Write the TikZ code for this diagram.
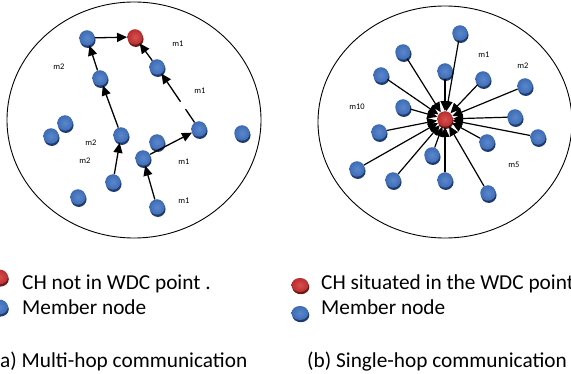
\documentclass[tikz,border=0pt]{standalone}
\usepackage{fontspec}
\setmainfont{Carlito}
\usetikzlibrary{arrows.meta,shadows,shapes.geometric}
\definecolor{nb}{RGB}{62,108,180}
\definecolor{nbl}{RGB}{90,135,205}
\definecolor{nbd}{RGB}{30,58,110}
\definecolor{nr}{RGB}{185,45,45}
\definecolor{nrl}{RGB}{215,80,80}
\definecolor{nrd}{RGB}{110,25,25}
\begin{document}
\begin{tikzpicture}[x=1pt,y=-1pt,
  mem/.style={circle,inner sep=0pt,minimum size=15.5pt,inner color=nbl,outer color=nb,
    drop shadow={shadow xshift=0.8pt,shadow yshift=-2.2pt,fill=nbd,opacity=1}},
  ch/.style={circle,inner sep=0pt,minimum size=15.5pt,inner color=nrl,outer color=nr,
    drop shadow={shadow xshift=0.8pt,shadow yshift=-2.2pt,fill=nrd,opacity=1}},
  lab/.style={font=\fontsize{8.5}{9}\selectfont,inner sep=0pt},
  leg/.style={font=\fontsize{21.3}{24}\selectfont,inner sep=0pt,anchor=base west},
  hop/.style={line width=1.3pt,-{Triangle[length=10pt,width=9pt]}},
  spoke/.style={line width=1.2pt,-{Triangle[length=10pt,width=9pt]}},
  area/.style={draw=black,line width=0.9pt}]
\useasboundingbox (0,0) rectangle (571,374);
\clip (0,0) rectangle (571,374);
\fill[white] (0,0) rectangle (571,374);
% areas
\node[area,ellipse,minimum width=254pt,minimum height=236pt,inner sep=0pt] (zoneA) at (134,120) {};
\node[area,ellipse,minimum width=254pt,minimum height=232pt,inner sep=0pt] (zoneB) at (445,122) {};
% ---------- multi-hop ----------
\node[ch]  (cha) at (135,37) {};
\node[mem] (a1) at (87,38) {};
\node[mem] (a2) at (100,78) {};
\node[mem] (a3) at (157,67) {};
\node[mem] (a4) at (65,123) {};
\node[mem] (a5) at (51,136) {};
\node[mem] (a6) at (121,135) {};
\node[mem] (a7) at (157,142) {};
\node[mem] (a8) at (199,129) {};
\node[mem] (a9) at (242,133) {};
\node[mem] (a10) at (143,158) {};
\node[mem] (a11) at (113,182) {};
\node[mem] (a12) at (78,197) {};
\node[mem] (a13) at (157,207) {};
\draw[hop] (a1) -- (cha);
\draw[hop] (a2) -- (a1);
\draw[hop] (a6) -- (a2);
\draw[hop] (a11) -- (a6);
\draw[hop] (a3) -- (cha);
\draw[hop,dash pattern=on 16pt off 9pt on 200pt] (a8) -- (a3);
\draw[hop] (a10) -- (a8);
\draw[hop] (a13) -- (a10);
\node[lab] (la1) at (178,44) {m1};
\node[lab] (la2) at (59,67) {m2};
\node[lab] (la3) at (200,91) {m1};
\node[lab] (la4) at (91,143) {m2};
\node[lab] (la5) at (85,161) {m2};
\node[lab] (la6) at (184,162) {m1};
\node[lab] (la7) at (184,201) {m1};
% ---------- single-hop ----------
\node[mem] (b1) at (460,33) {};
\node[mem] (b2) at (403,52) {};
\node[mem] (b3) at (445,71) {};
\node[mem] (b4) at (483,79) {};
\node[mem] (b5) at (525,86) {};
\node[mem] (b6) at (381,75) {};
\node[mem] (b7) at (403,107) {};
\node[mem] (b8) at (515,117) {};
\node[mem] (b9) at (538,137) {};
\node[mem] (b10) at (379,132) {};
\node[mem] (b11) at (487,142) {};
\node[mem] (b12) at (432,155) {};
\node[mem] (b13) at (357,169) {};
\node[mem] (b14) at (393,180) {};
\node[mem] (b15) at (445,180) {};
\node[mem] (b16) at (488,193) {};
\node[ch]  (chb) at (445,119) {};
\foreach \i in {1,...,16} {\draw[spoke] (b\i) -- (chb);}
\node[lab] (lb1) at (484,55) {m1};
\node[lab] (lb2) at (523,66) {m2};
\node[lab] (lb3) at (357,107) {m10};
\node[lab] (lb4) at (514,165) {m5};
% ---------- legends ----------
\node[ch,minimum width=18pt,minimum height=15pt,ellipse] (lra) at (-1,277) {};
\node[mem,minimum width=18pt,minimum height=15pt,ellipse] (lba) at (-1,307) {};
\node[leg] (tra) at (22,290) {CH not in WDC point .};
\node[leg] (tba) at (22,315) {Member node};
\node[ch,minimum width=17pt,minimum height=14pt,ellipse] (lrb) at (300,285) {};
\node[mem,minimum width=17pt,minimum height=14pt,ellipse] (lbb) at (300,313) {};
\node[leg] (trb) at (321,290) {CH situated in the WDC point};
\node[leg] (tbb) at (321,315) {Member node};
\node[leg] (capa) at (0,368) {a) Multi-hop communication};
\node[leg] (capb) at (307,368) {(b) Single-hop communication};
\end{tikzpicture}
\end{document}
